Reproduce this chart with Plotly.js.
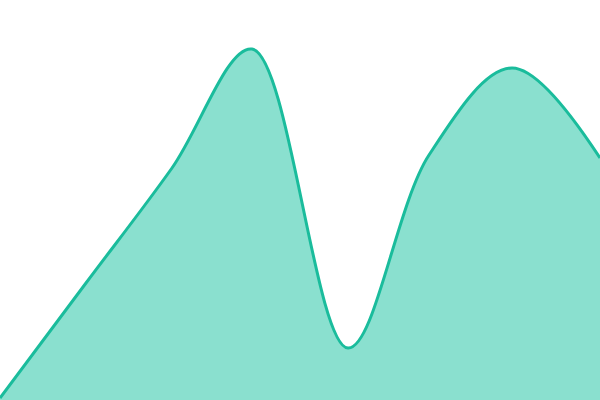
<!DOCTYPE html>
<html>
<head>
<meta charset="utf-8">
<script src="https://cdn.plot.ly/plotly-3.0.1.min.js"></script>
<style>
  html, body { margin: 0; padding: 0; background: #fff; }
  #chart { width: 600px; height: 400px; }
</style>
</head>
<body>
<div id="chart"></div>
<script>
// positions along the x axis and the heights
var steps = [0, 86, 172, 252, 348, 429, 512, 600];
var values = [2, 117, 232, 351, 52, 245, 332, 242];

var area = {
  x: steps,
  y: values,
  type: 'scatter',
  mode: 'lines',
  fill: 'tozeroy',
  fillcolor: 'rgb(138,224,207)',
  line: { color: 'rgb(26,188,156)', width: 3, shape: 'spline', smoothing: 1 },
  hoverinfo: 'none'
};

var layout = {
  width: 600,
  height: 400,
  margin: { l: 0, r: 0, t: 0, b: 0 },
  paper_bgcolor: '#fff',
  plot_bgcolor: '#fff',
  showlegend: false,
  xaxis: { range: [0, 600], visible: false, fixedrange: true },
  yaxis: { range: [0, 400], visible: false, fixedrange: true }
};

Plotly.newPlot('chart', [area], layout, { displayModeBar: false, staticPlot: true });
</script>
</body>
</html>
